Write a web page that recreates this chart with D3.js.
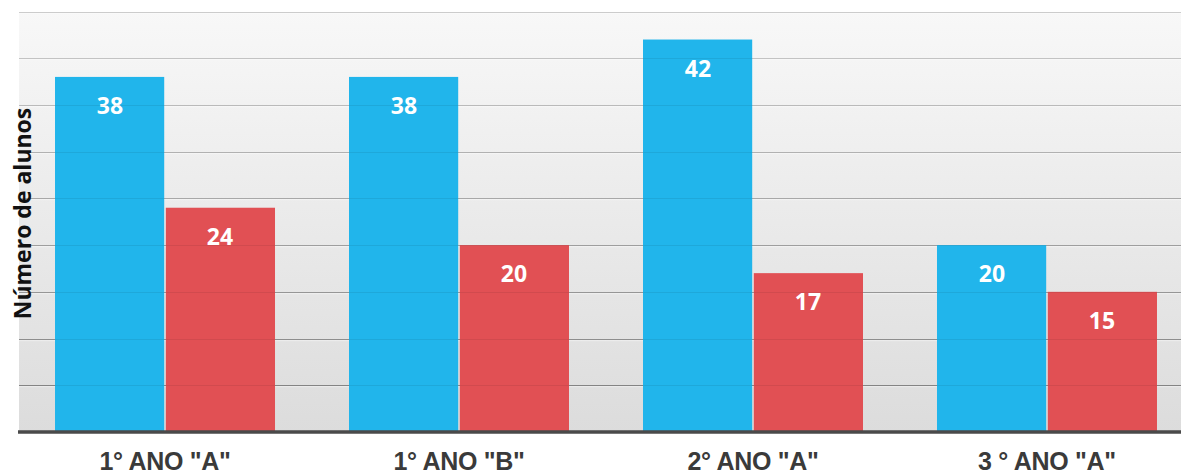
<!DOCTYPE html>
<html>
<head>
<meta charset="utf-8">
<script src="https://cdn.jsdelivr.net/npm/d3@7"></script>
<style>
  html, body { margin: 0; padding: 0; background: #ffffff; }
  svg { display: block; }
</style>
</head>
<body>
<svg id="chart" width="1181" height="474"></svg>
<script>
// ---- data ----
const categories = ['1° ANO "A"', '1° ANO "B"', '2° ANO "A"', '3 ° ANO "A"'];
const seriesNames = ["Série 1", "Série 2"];
const series1 = [38, 38, 42, 20];
const series2 = [24, 20, 17, 15];
const yTicks = [5, 10, 15, 20, 25, 30, 35, 40, 45];
const yTitle = "Número de alunos";

// ---- layout ----
const W = 1181, H = 474;
const plotLeft = 19, plotRight = 1181, plotTop = 11.5, plotBottom = 432;
const colors = ["#21b5eb", "#e15054"];

const svg = d3.select("#chart");
const defs = svg.append("defs");
const grad = defs.append("linearGradient").attr("id", "bg").attr("x1", 0).attr("y1", 0).attr("x2", 0).attr("y2", 1);
grad.append("stop").attr("offset", "0%").attr("stop-color", "#f8f8f8");
grad.append("stop").attr("offset", "100%").attr("stop-color", "#dcdcdc");

const y = d3.scaleLinear().domain([0, 45]).range([plotBottom, plotTop]);
const x0 = d3.scaleBand().domain(categories).range([18, 1194]).paddingInner(0.2517).paddingOuter(0.1259);
const x1 = d3.scaleBand().domain(seriesNames).range([0, x0.bandwidth()]);

// background
svg.append("rect")
  .attr("x", plotLeft).attr("y", Math.round(plotTop))
  .attr("width", plotRight - plotLeft).attr("height", plotBottom - Math.round(plotTop))
  .attr("fill", "url(#bg)");

// gridlines
const gridColor = d3.scaleLinear().domain([45, 5]).range(["#dcdcdc", "#8e8e8e"]);
const grid = svg.append("g");
yTicks.forEach(t => {
  const yy = Math.round(y(t));
  grid.append("line")
    .attr("x1", plotLeft).attr("x2", plotRight)
    .attr("y1", yy + 0.5).attr("y2", yy + 0.5)
    .attr("stroke", gridColor(t)).attr("stroke-width", 1.2);
  grid.append("line")
    .attr("x1", plotLeft).attr("x2", plotRight)
    .attr("y1", yy + 1.7).attr("y2", yy + 1.7)
    .attr("stroke", "#ffffff").attr("stroke-opacity", 0.45).attr("stroke-width", 1);
});

// bars
const data = categories.map((c, i) => ({ cat: c, vals: [series1[i], series2[i]] }));
const groups = svg.append("g").selectAll("g").data(data).join("g")
  .attr("transform", d => `translate(${x0(d.cat)},0)`);

groups.selectAll("rect").data(d => d.vals.map((v, j) => ({ v, s: seriesNames[j], j })))
  .join("rect")
  .attr("x", d => x1(d.s) + (d.j === 1 ? 0.8 : 0))
  .attr("width", d => x1.bandwidth() - 0.8)
  .attr("y", d => y(d.v))
  .attr("height", d => y(0) - y(d.v))
  .attr("fill", d => colors[d.j]);

// faint gridlines showing through the bars
const overlay = svg.append("g");
yTicks.forEach(t => {
  const yy = Math.round(y(t));
  overlay.append("line")
    .attr("x1", plotLeft).attr("x2", plotRight)
    .attr("y1", yy + 0.5).attr("y2", yy + 0.5)
    .attr("stroke", "#000000").attr("stroke-opacity", 0.07).attr("stroke-width", 1.2);
});

groups.selectAll("text").data(d => d.vals.map((v, j) => ({ v, s: seriesNames[j], j })))
  .join("text")
  .attr("x", d => x1(d.s) + x1.bandwidth() / 2)
  .attr("y", d => y(d.v) + 29)
  .attr("dy", "0.36em")
  .attr("text-anchor", "middle")
  .attr("fill", "#ffffff")
  .attr("font-family", "'Open Sans', sans-serif")
  .attr("font-weight", 700)
  .attr("font-size", 23)
  .text(d => d.v);

// baseline
svg.append("line")
  .attr("x1", plotLeft - 1).attr("x2", plotRight)
  .attr("y1", plotBottom).attr("y2", plotBottom)
  .attr("stroke", "#4a4a4a").attr("stroke-width", 3.5);

// x axis labels
const xAxis = d3.axisBottom(x0).tickSize(0).tickPadding(0);
const xg = svg.append("g").attr("transform", `translate(0,${plotBottom})`).call(xAxis);
xg.select(".domain").remove();
xg.selectAll("text")
  .attr("y", 38)
  .attr("dy", 0)
  .attr("fill", "#3a3a3a")
  .attr("font-family", "'Liberation Sans', Arial, sans-serif")
  .attr("font-weight", 700)
  .attr("font-size", 25)
  .attr("letter-spacing", "-0.3px");

// y title
svg.append("text")
  .attr("transform", `translate(23,${(107 + 320) / 2}) rotate(-90)`)
  .attr("text-anchor", "middle")
  .attr("dy", "0.36em")
  .attr("fill", "#111111")
  .attr("font-family", "'Open Sans', sans-serif")
  .attr("font-weight", 700)
  .attr("font-size", 23)
  .text(yTitle);
</script>
</body>
</html>
